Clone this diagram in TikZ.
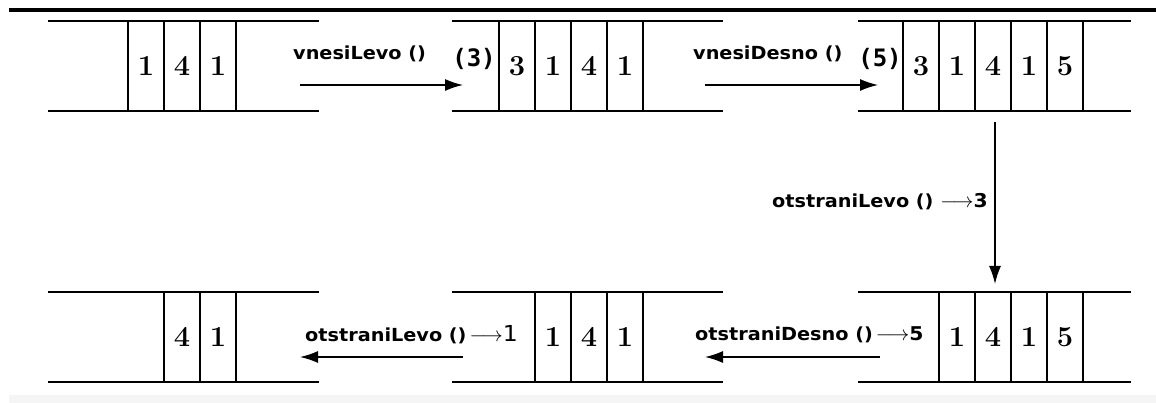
\documentclass[tikz,border=0pt]{standalone}
\usepackage{fontspec}
\newfontfamily\labfont[FakeStretch=1.07]{DejaVu Sans}
\newfontfamily\parfont{DejaVu Sans Mono}
\usetikzlibrary{arrows.meta}
\newcommand{\myarr}{{\fontsize{20}{20}\selectfont$\longrightarrow$}}
\tikzset{
  cell/.style={draw, line width=1.5pt, minimum width=36pt, minimum height=90pt, inner sep=0pt, font=\bfseries\fontsize{29}{29}\selectfont},
  rail/.style={line width=1.5pt},
  op/.style={line width=1.5pt, -{Latex[length=18pt,width=12pt]}},
  lab/.style={inner sep=0pt, font=\labfont\bfseries\fontsize{18}{18}\selectfont},
  par/.style={inner sep=0pt, font=\parfont\bfseries\fontsize{24}{24}\selectfont},
}
\begin{document}
\begin{tikzpicture}[x=1pt,y=-1pt]
\useasboundingbox (0,0) rectangle (1156,403);
\fill[white] (0,0) rectangle (1156,403);
\fill[black] (9,8) rectangle (1156,12);
\fill[gray!8] (9,395) rectangle (1156,403);

% rails
\foreach \xa/\xb/\ya/\yb in {48/319/21/111, 452/723/21/111, 858/1131/21/111, 48/319/292/382, 452/723/292/382, 858/1131/292/382}{
  \draw[rail] (\xa,\ya) -- (\xb,\ya);
  \draw[rail] (\xa,\yb) -- (\xb,\yb);
}
% queue 1
\foreach \d [count=\i] in {1,4,1}{ \node[cell] (qa\i) at ({110+36*\i},66) {\d}; }
% queue 2
\foreach \d [count=\i] in {3,1,4,1}{ \node[cell] (qb\i) at ({481+36*\i},66) {\d}; }
% queue 3
\foreach \d [count=\i] in {3,1,4,1,5}{ \node[cell] (qc\i) at ({885+36*\i},66) {\d}; }
% queue 4
\foreach \d [count=\i] in {4,1}{ \node[cell] (qd\i) at ({146+36*\i},337) {\d}; }
% queue 5
\foreach \d [count=\i] in {1,4,1}{ \node[cell] (qe\i) at ({517+36*\i},337) {\d}; }
% queue 6
\foreach \d [count=\i] in {1,4,1,5}{ \node[cell] (qf\i) at ({921+36*\i},337) {\d}; }

% labels
\node[lab, anchor=base west] (l1) at (293,60) {vnesiLevo ()};
\node[par] (p1) at (474,59) {(3)};
\node[lab, anchor=base west] (l2) at (693,60) {vnesiDesno ()};
\node[par] (p2) at (880,59) {(5)};
\node[lab, anchor=base east] (l3) at (988,208) {otstraniLevo ()\ \myarr{\fontsize{19}{19}\selectfont 3}};
\node[lab, anchor=base west] (l4) at (305,341) {otstraniLevo ()\,\myarr{\mdseries\fontsize{22}{22}\selectfont 1}};
\node[lab, anchor=base west] (l5) at (695,340) {otstraniDesno ()\,\myarr{\fontsize{19}{19}\selectfont 5}};

% arrows
\coordinate (a1s) at (300,85);  \coordinate (a1e) at (463,85);
\coordinate (a2s) at (705,85);  \coordinate (a2e) at (878,85);
\coordinate (a3s) at (995,122); \coordinate (a3e) at (995,284);
\coordinate (a4s) at (463,357); \coordinate (a4e) at (300,357);
\coordinate (a5s) at (880,357); \coordinate (a5e) at (705,357);
\draw[op] (a1s) -- (a1e);
\draw[op] (a2s) -- (a2e);
\draw[op] (a3s) -- (a3e);
\draw[op] (a4s) -- (a4e);
\draw[op] (a5s) -- (a5e);
\end{tikzpicture}
\end{document}
